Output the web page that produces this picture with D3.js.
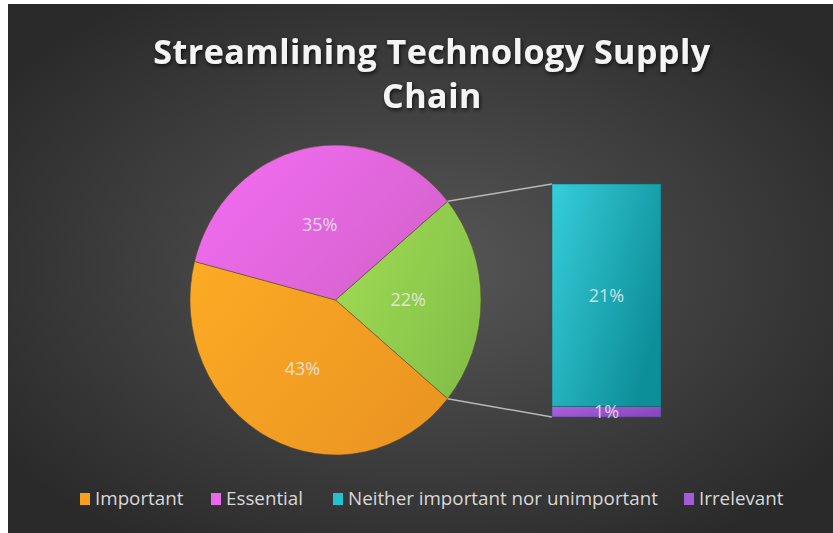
<!DOCTYPE html>
<html>
<head>
<meta charset="utf-8">
<script src="https://cdn.jsdelivr.net/npm/d3@7"></script>
<style>
  html, body { margin: 0; padding: 0; background: #ffffff; }
  svg { display: block; }
</style>
</head>
<body>
<svg id="chart" width="833" height="533"></svg>
<script>
// Survey answers: the first two go in the main pie, the rest are split out into the bar.
const categories = ["Important", "Essential", "Neither important nor unimportant", "Irrelevant"];
const values = [43, 35, 21, 1];
const valueLabels = ["43%", "35%", "21%", "1%"];
const secondaryCount = 2; // last two categories form the "other" slice and the bar
const titleLines = ["Streamlining Technology Supply", "Chain"];

const palette = {
  "Important": ["#fcab24", "#ec9622"],
  "Essential": ["#f46ef4", "#d662cf"],
  "Other": ["#a2de55", "#85c148"],
  "Neither important nor unimportant": ["#36cdda", "#0d8f99"],
  "Irrelevant": ["#ad62e0", "#8b47c0"]
};
const legendColors = ["#f6a01d", "#e86ae8", "#25c0cf", "#a45cd6"];

const svg = d3.select("#chart");
const W = 833, H = 533;
const defs = svg.append("defs");

// background panel with soft radial light
const bg = defs.append("radialGradient").attr("id", "bg")
  .attr("cx", "0.5").attr("cy", "0.5").attr("r", "0.62")
  .attr("gradientUnits", "objectBoundingBox");
bg.append("stop").attr("offset", "0").attr("stop-color", "#575757");
bg.append("stop").attr("offset", "1").attr("stop-color", "#2a2a2a");
svg.append("rect").attr("x", 8).attr("y", 4).attr("width", W - 8).attr("height", H - 4)
  .attr("fill", "url(#bg)");

function linGrad(id, c0, c1, x2, y2) {
  const g = defs.append("linearGradient").attr("id", id)
    .attr("x1", "0").attr("y1", "0").attr("x2", x2).attr("y2", y2);
  g.append("stop").attr("offset", "0").attr("stop-color", c0);
  g.append("stop").attr("offset", "1").attr("stop-color", c1);
}
Object.keys(palette).forEach((k, i) => linGrad("g" + i, palette[k][0], palette[k][1], "1", "0.6"));
const gradId = k => "url(#g" + Object.keys(palette).indexOf(k) + ")";

const shadow = defs.append("filter").attr("id", "tshadow")
  .attr("x", "-10%").attr("y", "-30%").attr("width", "120%").attr("height", "160%");
shadow.append("feDropShadow").attr("dx", 1).attr("dy", 2).attr("stdDeviation", 2)
  .attr("flood-color", "#000").attr("flood-opacity", 0.75);

// title
const title = svg.append("text").attr("text-anchor", "middle")
  .attr("font-family", "'Open Sans', sans-serif").attr("font-weight", 700)
  .attr("font-size", 34).attr("fill", "#f4f4f4").attr("filter", "url(#tshadow)")
  .style("letter-spacing", "0.5px");
titleLines.forEach((t, i) => title.append("tspan").attr("x", 432).attr("y", 64 + i * 44).text(t));

// main pie
const total = d3.sum(values);
const mainCats = categories.slice(0, categories.length - secondaryCount);
const mainVals = values.slice(0, categories.length - secondaryCount);
const secCats = categories.slice(-secondaryCount);
const secVals = values.slice(-secondaryCount);
const otherVal = d3.sum(secVals);

const pieData = [{ key: "Other", value: otherVal, label: otherVal + "%" }]
  .concat(mainCats.map((c, i) => ({ key: c, value: mainVals[i], label: valueLabels[i] })));

const cx = 335.5, cy = 300, rx = 145.5, ry = 155;
const sy = ry / rx;
const startA = Math.PI / 2 - (otherVal / total) * Math.PI;
const pie = d3.pie().sort(null).value(d => d.value)
  .startAngle(startA).endAngle(startA + 2 * Math.PI);
const arcs = pie(pieData);
const arc = d3.arc().innerRadius(0).outerRadius(rx);

const pieG = svg.append("g").attr("transform", `translate(${cx},${cy}) scale(1,${sy})`);
pieG.selectAll("path").data(arcs).join("path")
  .attr("d", arc)
  .attr("fill", d => gradId(d.data.key))
  .attr("stroke", "#5a4a2a").attr("stroke-opacity", 0.55).attr("stroke-width", 1)
  .attr("vector-effect", "non-scaling-stroke");

const labelFont = "'Open Sans', sans-serif";
svg.append("g").selectAll("text").data(arcs).join("text")
  .attr("x", d => cx + arc.centroid(d)[0])
  .attr("y", d => cy + arc.centroid(d)[1] * sy)
  .attr("dy", "0.35em").attr("text-anchor", "middle")
  .attr("font-family", labelFont).attr("font-size", 18)
  .attr("fill", "#ececec").attr("fill-opacity", 0.85)
  .text(d => d.data.label);

// secondary stacked bar
const otherArc = arcs[0];
const barX0 = 552, barW = 109;
const y = d3.scaleLinear().domain([0, otherVal]).range([417, 184]);
let acc = 0;
const stack = [];
for (let i = secCats.length - 1; i >= 0; i--) {
  stack.push({ key: secCats[i], v0: acc, v1: acc + secVals[i], label: valueLabels[categories.indexOf(secCats[i])] });
  acc += secVals[i];
}

// connector lines from the other slice to the bar
const p1 = [cx + rx * Math.sin(otherArc.startAngle), cy - ry * Math.cos(otherArc.startAngle)];
const p2 = [cx + rx * Math.sin(otherArc.endAngle), cy - ry * Math.cos(otherArc.endAngle)];
svg.append("line").attr("x1", p1[0]).attr("y1", p1[1]).attr("x2", barX0).attr("y2", y(otherVal))
  .attr("stroke", "#b8b8b8").attr("stroke-width", 1.5);
svg.append("line").attr("x1", p2[0]).attr("y1", p2[1]).attr("x2", barX0).attr("y2", y(0))
  .attr("stroke", "#b8b8b8").attr("stroke-width", 1.5);

svg.append("g").selectAll("rect").data(stack).join("rect")
  .attr("x", barX0).attr("width", barW)
  .attr("y", d => y(d.v1)).attr("height", d => y(d.v0) - y(d.v1))
  .attr("fill", d => gradId(d.key))
  .attr("stroke", "#0b5f66").attr("stroke-opacity", 0.5).attr("stroke-width", 1);

svg.append("g").selectAll("text").data(stack).join("text")
  .attr("x", barX0 + barW / 2)
  .attr("y", d => (d.v1 - d.v0) < 3 ? y(d.v0) - 5 : (y(d.v0) + y(d.v1)) / 2)
  .attr("dy", "0.35em").attr("text-anchor", "middle")
  .attr("font-family", labelFont).attr("font-size", 18)
  .attr("fill", "#ececec").attr("fill-opacity", 0.85)
  .text(d => d.label);

// legend
const legendX = [80, 211, 333, 684];
const legend = svg.append("g");
categories.forEach((c, i) => {
  legend.append("rect").attr("x", legendX[i]).attr("y", 493).attr("width", 10).attr("height", 12)
    .attr("fill", legendColors[i]);
  legend.append("text").attr("x", legendX[i] + 15).attr("y", 498).attr("dy", "0.35em")
    .attr("font-family", labelFont).attr("font-size", 18.8).attr("fill", "#d9d9d9")
    .text(c);
});
</script>
</body>
</html>
